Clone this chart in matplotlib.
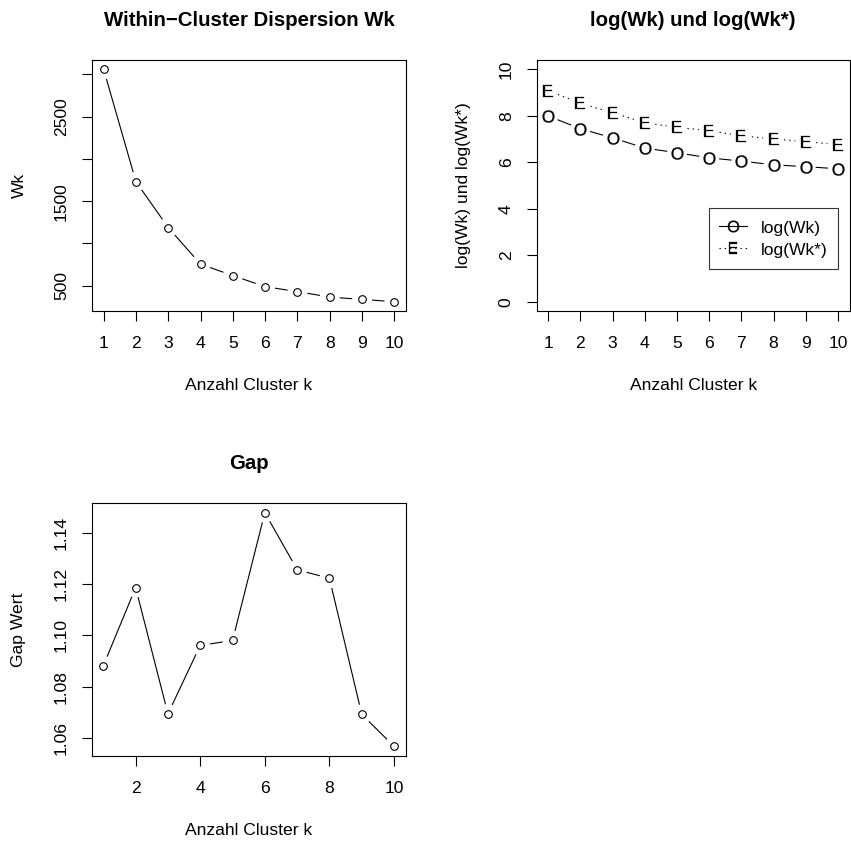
import numpy as np
import matplotlib
matplotlib.use("Agg")
import matplotlib.pyplot as plt
from matplotlib.lines import Line2D

plt.rcParams['font.family'] = ['Liberation Sans', 'DejaVu Sans']
plt.rcParams['mathtext.fontset'] = 'custom'
plt.rcParams['mathtext.rm'] = 'Liberation Sans'

# ---------------- data ----------------
k = [1, 2, 3, 4, 5, 6, 7, 8, 9, 10]
wk = [3060, 1730, 1187, 754, 619, 488, 429, 365, 337, 310]
log_wk = [7.99, 7.44, 7.05, 6.61, 6.41, 6.19, 6.05, 5.89, 5.81, 5.72]
log_wk_star = [9.08, 8.54, 8.13, 7.70, 7.50, 7.36, 7.14, 7.00, 6.89, 6.76]
gap = [1.0881, 1.1187, 1.0693, 1.0961, 1.0980, 1.1480, 1.1257, 1.1223, 1.0691, 1.0566]

wk_yticks = [500, 1000, 1500, 2000, 2500, 3000]
wk_yticklabels = ['500', '', '1500', '', '2500', '']
log_yticks = [0, 2, 4, 6, 8, 10]
gap_yticks = [1.06, 1.08, 1.10, 1.12, 1.14]
gap_yticklabels = ['1.06', '1.08', '1.10', '1.12', '1.14']
gap_xticks = [2, 4, 6, 8, 10]

titles = ['Within\u2212Cluster Dispersion Wk', 'log(Wk) und log(Wk*)', 'Gap']
xlabel = 'Anzahl Cluster k'
ylabels = ['Wk', 'log(Wk) und log(Wk*)', 'Gap Wert']
legend_labels = ['log(Wk)', 'log(Wk*)']

# ---------------- figure ----------------
W, H = 851, 843
fig = plt.figure(figsize=(W / 100, H / 100), dpi=100)
FS = 12.6
TFS = 14.7
LW = 0.8
GAP_PX = 10.5
DOTTED = (0, (1.2, 3.5))


def px_axes(x0, y0, x1, y1):
    return fig.add_axes([x0 / W, 1 - y1 / H, (x1 - x0) / W, (y1 - y0) / H])


def style(ax, title, ylab):
    for s in ax.spines.values():
        s.set_linewidth(LW)
    ax.tick_params(axis='both', length=6.9, width=LW, labelsize=FS, direction='out')
    ax.tick_params(axis='x', pad=11.3)
    ax.tick_params(axis='y', pad=15.0)
    for lab in ax.get_yticklabels():
        lab.set_rotation(90)
        lab.set_va('center')
        lab.set_ha('center')
    ax.annotate(title, xy=(0.5, 1), xycoords='axes fraction', xytext=(0, 28.5),
                textcoords='offset points', ha='center', va='center',
                fontsize=TFS, fontweight='bold')
    ax.annotate(xlabel, xy=(0.5, 0), xycoords='axes fraction', xytext=(0, -53.5),
                textcoords='offset points', ha='center', va='center', fontsize=FS)
    ax.annotate(ylab, xy=(0, 0.5), xycoords='axes fraction', xytext=(-52.5, 0),
                textcoords='offset points', ha='center', va='center', fontsize=FS,
                rotation=90)


def freeze(ax):
    ax.set_xlim(ax.get_xlim())
    ax.set_ylim(ax.get_ylim())


def gapped_line(ax, x, y, ls='-'):
    """R type='b': line segments interrupted around each point."""
    T = ax.transData
    pts = T.transform(np.column_stack([x, y]).astype(float))
    inv = T.inverted()
    for p0, p1 in zip(pts[:-1], pts[1:]):
        d = p1 - p0
        L = np.hypot(*d)
        if L <= 2 * GAP_PX:
            continue
        u = d / L
        seg = inv.transform(np.array([p0 + u * GAP_PX, p1 - u * GAP_PX]))
        ax.plot(seg[:, 0], seg[:, 1], color='black', lw=LW, ls=ls, zorder=2)


# Panel 1
ax1 = px_axes(92, 60, 406, 311)
ax1.plot(k, wk, ls='none', marker='o', ms=5.5, mfc='white', mec='black', mew=LW, zorder=3)
ax1.margins(x=0.04, y=0.04)
freeze(ax1)
gapped_line(ax1, k, wk)
ax1.set_xticks(k)
ax1.set_yticks(wk_yticks)
ax1.set_yticklabels(wk_yticklabels)
style(ax1, titles[0], ylabels[0])

# Panel 2
ax2 = px_axes(536.7, 60, 849.5, 311)
ax2.plot(k, log_wk, ls='none', marker=r'$\mathrm{O}$', ms=8.8, mfc='black', mec='black',
         mew=0.2, zorder=3)
ax2.plot(k, log_wk_star, ls='none', marker=r'$\mathrm{E}$', ms=8.8, mfc='black', mec='black',
         mew=0.2, zorder=3)
ax2.margins(x=0.04)
ax2.set_ylim(-0.4, 10.4)
freeze(ax2)
gapped_line(ax2, k, log_wk)
gapped_line(ax2, k, log_wk_star, ls=DOTTED)
ax2.set_xticks(k)
ax2.set_yticks(log_yticks)
style(ax2, titles[1], ylabels[1])
handles = [
    Line2D([], [], color='black', lw=LW, marker=r'$\mathrm{O}$', ms=8.4, mfc='black',
           mec='black', mew=0.2),
    Line2D([], [], color='black', lw=LW, ls=DOTTED, marker=r'$\mathrm{E}$', ms=8.2,
           mfc='black', mec='black', mew=0.2),
]
leg = ax2.legend(handles, legend_labels, loc='upper left', bbox_to_anchor=(0.5505, 0.410),
                 borderaxespad=0, fontsize=FS, frameon=True, fancybox=False,
                 edgecolor='black', handlelength=1.6, handletextpad=0.75,
                 borderpad=0.6, labelspacing=0.22, handleheight=1.2)
leg.get_frame().set_linewidth(LW)

# Panel 3
ax3 = px_axes(91.7, 503.3, 405.7, 755.7)
ax3.plot(k, gap, ls='none', marker='o', ms=5.5, mfc='white', mec='black', mew=LW, zorder=3)
ax3.margins(x=0.04, y=0.04)
freeze(ax3)
gapped_line(ax3, k, gap)
ax3.set_xticks(gap_xticks)
ax3.set_yticks(gap_yticks)
ax3.set_yticklabels(gap_yticklabels)
style(ax3, titles[2], ylabels[2])

fig.savefig('out.png', dpi=100, facecolor='white')
